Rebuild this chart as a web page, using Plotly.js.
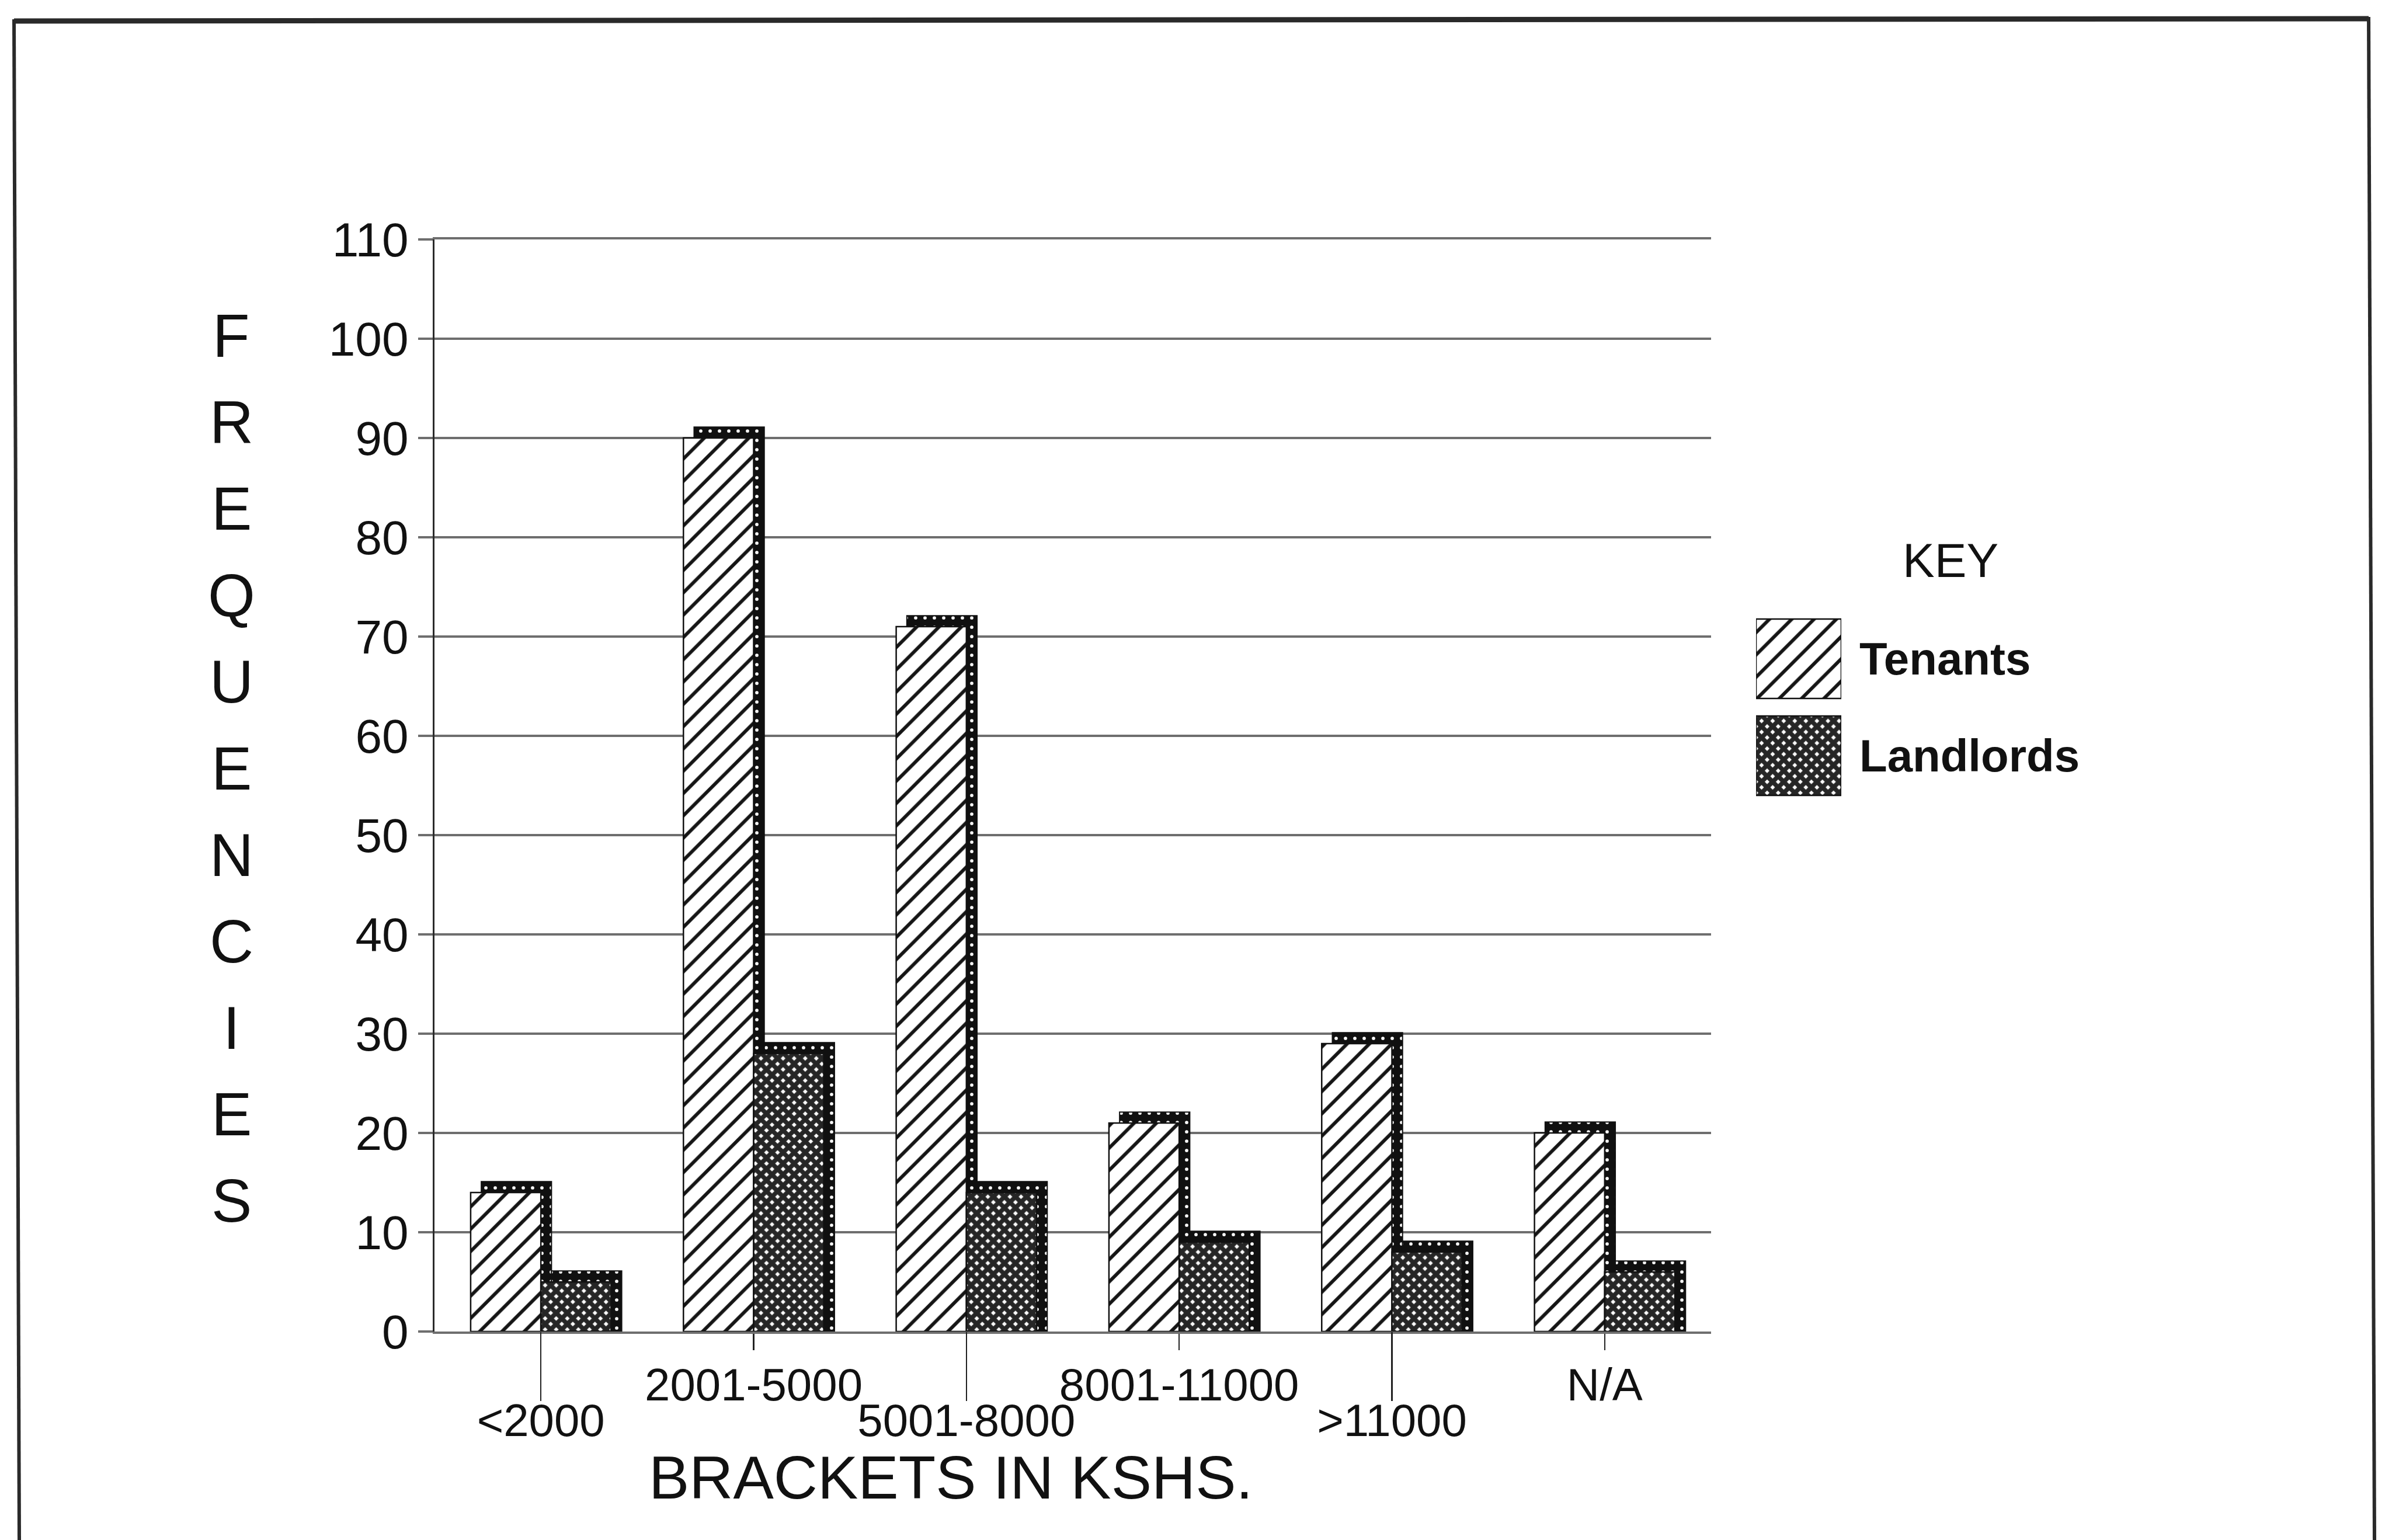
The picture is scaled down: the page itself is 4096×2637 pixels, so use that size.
<!DOCTYPE html>
<html>
<head>
<meta charset="utf-8">
<script src="https://cdn.plot.ly/plotly-3.0.1.min.js"></script>
<style>
  html, body { margin: 0; padding: 0; background: #ffffff; }
  #chart { width: 4096px; height: 2637px; }
</style>
</head>
<body>
<div id="chart"></div>
<script>
// Rent brackets (KShs) and number of respondents in each bracket
const brackets = ['<2000', '2001-5000', '5001-8000', '8001-11000', '>11000', 'N/A'];
const tenants = [14, 90, 71, 21, 29, 20];
const landlords = [5, 28, 14, 9, 8, 6];
const seriesNames = ['Tenants', 'Landlords'];
const yTicks = [0, 10, 20, 30, 40, 50, 60, 70, 80, 90, 100, 110];
const yTitle = 'FREQUENCIES';
const xTitle = 'BRACKETS IN KSHS.';
const keyTitle = 'KEY';

// ---- page geometry (pixels) ----
const W = 4096, H = 2637;
const px = v => v / W;
const py = v => 1 - v / H;

const FONT = '"Liberation Sans", Arial, Helvetica, sans-serif';
const INK = '#111111';
const GRID = '#6e6e6e';

// bar face width and the pseudo-3D rim offset (category / value units)
const barW = 0.33;
const rimX = 0.05;
const rimY = 1.1;

const hatch = { shape: '/', size: 27, solidity: 0.22, fgcolor: '#151515', bgcolor: '#ffffff', fillmode: 'replace' };
const mesh = { shape: 'x', size: 13.4, solidity: 0.82, fgcolor: '#262626', bgcolor: '#ffffff', fillmode: 'replace' };
const rim = { shape: '.', size: 16, solidity: 0.1, fgcolor: '#ffffff', bgcolor: '#101010', fillmode: 'replace' };
const outline = { color: '#111111', width: 2.5 };

const withRim = vals => vals.map(v => v + rimY);

const traces = [
  // dark dotted rims sit behind the faces (lower subplot layer)
  { type: 'bar', x: brackets, y: withRim(tenants), offset: -barW + rimX, width: barW,
    marker: { color: '#101010', pattern: rim, line: { color: '#111', width: 2 } }, hoverinfo: 'skip', showlegend: false },
  { type: 'bar', x: brackets, y: withRim(landlords), offset: rimX, width: barW,
    marker: { color: '#101010', pattern: rim, line: { color: '#111', width: 2 } }, hoverinfo: 'skip', showlegend: false },
  // bar faces, drawn on the overlaying x axis so they sit on top
  { type: 'bar', name: seriesNames[0], x: brackets, y: tenants, offset: -barW, width: barW, xaxis: 'x2',
    marker: { color: '#ffffff', pattern: hatch, line: outline } },
  { type: 'bar', name: seriesNames[1], x: brackets, y: landlords, offset: 0, width: barW, xaxis: 'x2',
    marker: { color: '#262626', pattern: mesh, line: outline } },
  // key swatches
  { type: 'bar', orientation: 'h', x: [1], y: [seriesNames[0]], xaxis: 'x3', yaxis: 'y3',
    marker: { color: '#ffffff', pattern: hatch, line: outline }, hoverinfo: 'skip', showlegend: false },
  { type: 'bar', orientation: 'h', x: [1], y: [seriesNames[1]], xaxis: 'x3', yaxis: 'y3',
    marker: { color: '#262626', pattern: mesh, line: outline }, hoverinfo: 'skip', showlegend: false }
];

const xDomain = [px(744), px(2930)];
// category labels alternate between an upper and a lower row
const upperRow = brackets.filter((b, i) => i % 2 === 1);
const lowerRow = brackets.filter((b, i) => i % 2 === 0);

const annotations = [];
// vertical axis title, one letter per line
yTitle.split('').forEach((ch, i) => {
  annotations.push({ text: ch, xref: 'paper', yref: 'paper', x: px(396), y: py(575 + i * 148.1),
    xanchor: 'center', yanchor: 'middle', showarrow: false, font: { family: FONT, size: 104, color: INK } });
});
annotations.push({ text: xTitle, xref: 'paper', yref: 'paper', x: px(1628), y: py(2530),
  xanchor: 'center', yanchor: 'middle', showarrow: false, font: { family: FONT, size: 104, color: INK } });
annotations.push({ text: keyTitle, xref: 'paper', yref: 'paper', x: px(3340), y: py(959),
  xanchor: 'center', yanchor: 'middle', showarrow: false, font: { family: FONT, size: 82, color: INK } });

// page frame (open at the bottom)
const frameColor = '#2a2a2a';
const shapes = [
  { type: 'line', xref: 'paper', yref: 'paper', x0: px(24), y0: py(36), x1: px(4056), y1: py(32), line: { color: frameColor, width: 9 } },
  { type: 'line', xref: 'paper', yref: 'paper', x0: px(24), y0: py(33), x1: px(33), y1: py(2637), line: { color: frameColor, width: 6 } },
  { type: 'line', xref: 'paper', yref: 'paper', x0: px(4056), y0: py(29), x1: px(4066), y1: py(2637), line: { color: frameColor, width: 6 } }
];

const catAxis = {
  type: 'category', categoryorder: 'array', categoryarray: brackets,
  domain: xDomain, range: [-0.5, 5.5], anchor: 'y',
  ticks: 'outside', tickwidth: 2.5, tickcolor: '#222',
  showgrid: false, zeroline: false,
  tickfont: { family: FONT, size: 78, color: INK }, fixedrange: true
};

const layout = {
  width: W, height: H,
  margin: { l: 0, r: 0, t: 0, b: 0 },
  paper_bgcolor: '#ffffff', plot_bgcolor: 'rgba(0,0,0,0)',
  font: { family: FONT, color: INK },
  barmode: 'overlay', bargap: 0.18,
  showlegend: false,
  xaxis: Object.assign({}, catAxis, {
    tickmode: 'array', tickvals: upperRow, ticktext: upperRow,
    ticklen: 28, ticklabelstandoff: -8,
    showline: true, mirror: true, linecolor: GRID, linewidth: 4
  }),
  xaxis2: Object.assign({}, catAxis, {
    overlaying: 'x',
    tickmode: 'array', tickvals: lowerRow, ticktext: lowerRow,
    ticklen: 118, ticklabelstandoff: -34,
    showline: false
  }),
  yaxis: {
    domain: [py(2280), py(410)], range: [0, 110], anchor: 'x',
    tickmode: 'array', tickvals: yTicks,
    ticks: 'outside', ticklen: 25, tickwidth: 4, tickcolor: GRID,
    showgrid: true, gridcolor: GRID, gridwidth: 4,
    showline: true, linecolor: '#2a2a2a', linewidth: 3, zeroline: false,
    tickfont: { family: FONT, size: 82, color: INK }, ticklabelstandoff: 0, fixedrange: true
  },
  xaxis3: { domain: [px(3007), px(3153)], range: [0, 1], anchor: 'y3', visible: false, fixedrange: true },
  yaxis3: {
    domain: [py(1377), py(1045)], anchor: 'x3', side: 'right', type: 'category',
    categoryorder: 'array', categoryarray: seriesNames, autorange: 'reversed',
    showgrid: false, zeroline: false, showline: false, ticks: '',
    tickfont: { family: FONT, size: 78, color: INK, weight: 700 }, ticklabelstandoff: 30, fixedrange: true
  },
  annotations: annotations,
  shapes: shapes
};

Plotly.newPlot('chart', traces, layout, { staticPlot: true, displayModeBar: false });
</script>
</body>
</html>
